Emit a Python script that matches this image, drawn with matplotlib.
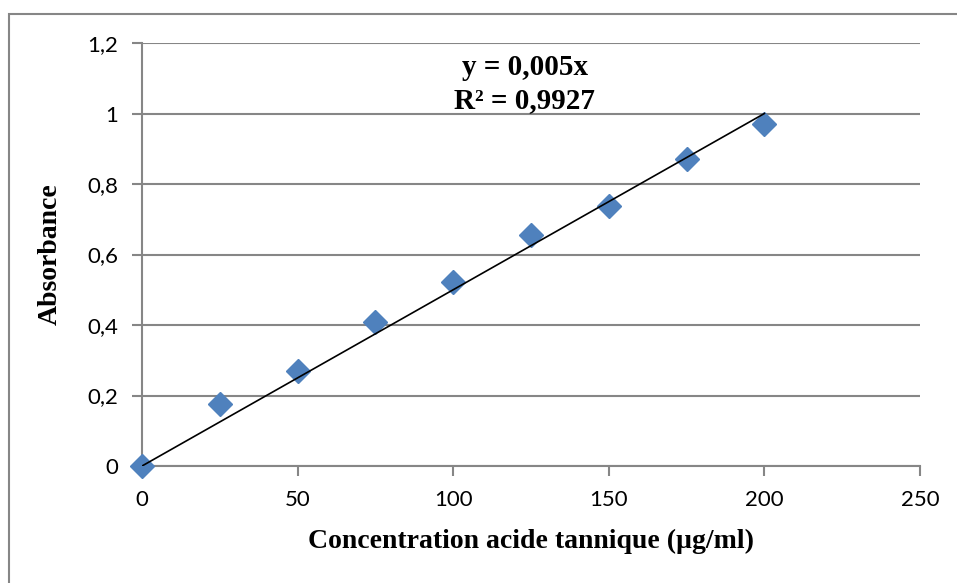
import matplotlib.pyplot as plt
from matplotlib.patches import Rectangle
from matplotlib.ticker import FuncFormatter

conc = [0, 25, 50, 75, 100, 125, 150, 175, 200]
absorb = [0.0, 0.176, 0.27, 0.409, 0.522, 0.655, 0.738, 0.871, 0.970]
slope = 0.005
r2_label = "R² = 0,9927"
eq_label = "y = 0,005x"

grid_col = "#868686"

fig = plt.figure(figsize=(9.57, 5.83), dpi=100)
ax = fig.add_axes([142 / 957, 1 - 466 / 583, 778 / 957, 423 / 583])

# outer chart border (cut off at right and bottom as in the source)
fig.patches.append(Rectangle((9 / 957, -0.05), 1.2, 1 - 14 / 583 + 0.05,
                             transform=fig.transFigure, fill=False,
                             edgecolor=grid_col, linewidth=1.5))

ax.plot(conc, absorb, linestyle="none", marker="D", markersize=12,
        color="#4F81BD", zorder=3, clip_on=False)
ax.plot([0, 200], [0, slope * 200], color="black", linewidth=1.2, zorder=4)

ax.set_xlim(0, 250)
ax.set_ylim(0, 1.2)
ax.set_xticks([0, 50, 100, 150, 200, 250])
ax.set_yticks([0, 0.2, 0.4, 0.6, 0.8, 1.0, 1.2])
ax.yaxis.set_major_formatter(FuncFormatter(lambda v, p: f"{v:g}".replace(".", ",")))
ax.grid(axis="y", color=grid_col, linewidth=1.5)
ax.set_axisbelow(True)

for s in ["top", "right"]:
    ax.spines[s].set_visible(False)
for s in ["left", "bottom"]:
    ax.spines[s].set_color(grid_col)
    ax.spines[s].set_linewidth(1.5)

ax.tick_params(axis="both", colors=grid_col, length=7, width=1.5,
               labelcolor="black", labelsize=16)
ax.tick_params(axis="y", pad=10)
ax.tick_params(axis="x", pad=10)
for lab in ax.get_xticklabels() + ax.get_yticklabels():
    lab.set_fontfamily("Lato")

ax.set_xlabel("Concentration acide tannique (µg/ml)", fontfamily="Liberation Serif",
              fontweight="bold", fontsize=20, labelpad=14)
ax.set_ylabel("Absorbance", fontfamily="Liberation Serif", fontweight="bold",
              fontsize=20, labelpad=18)

ax.text(123, 1.13, eq_label, ha="center", va="center", fontfamily="Liberation Serif",
        fontweight="bold", fontsize=21)
ax.text(123, 1.038, r2_label, ha="center", va="center", fontfamily="Liberation Serif",
        fontweight="bold", fontsize=21)

fig.savefig("out.png", dpi=100)
